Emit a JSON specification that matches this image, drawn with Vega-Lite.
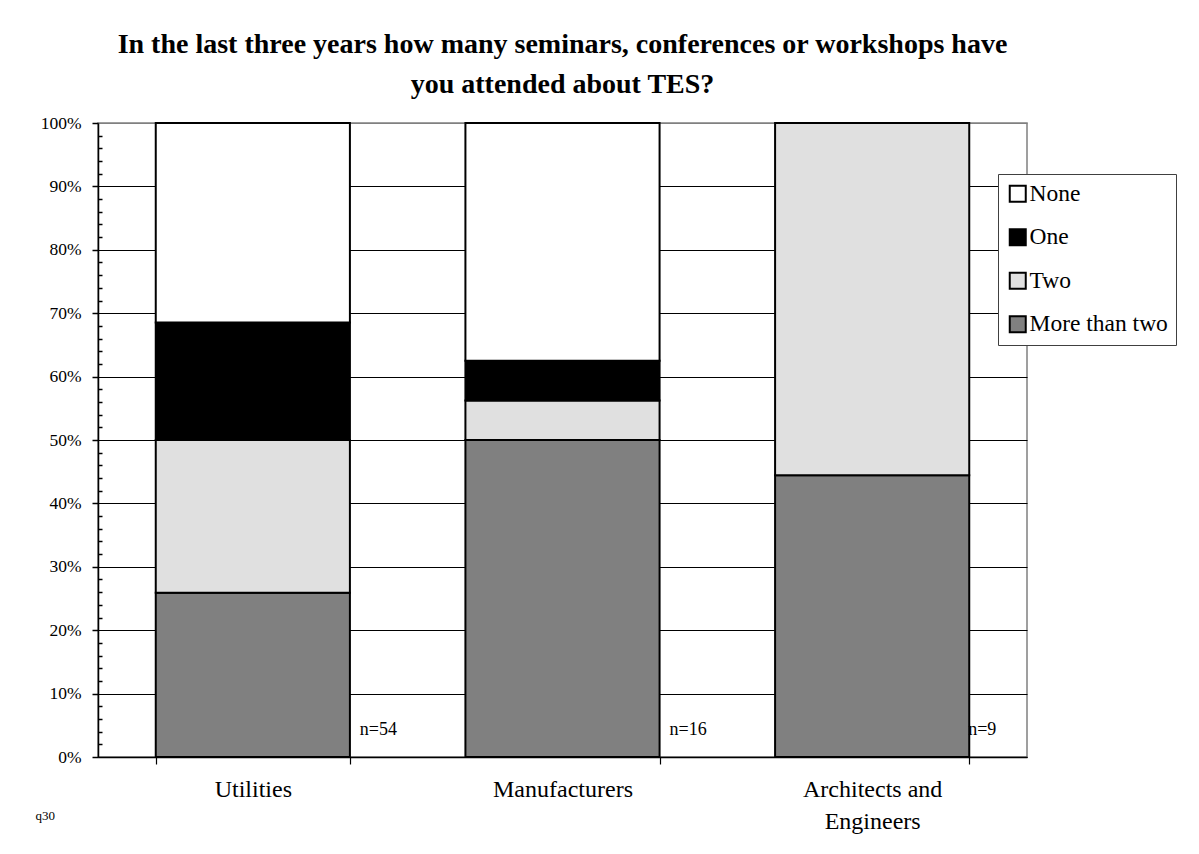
{
  "$schema": "https://vega.github.io/schema/vega-lite/v6.json",
  "autosize": "none",
  "width": 929,
  "height": 634,
  "padding": {"left": 98, "top": 123, "right": 172, "bottom": 97},
  "background": "white",
  "config": {
    "font": "Liberation Serif",
    "view": {"stroke": "#808080", "strokeWidth": 1.5}
  },
  "title": {
    "text": ["In the last three years how many seminars, conferences or workshops have", "you attended about TES?"],
    "anchor": "middle",
    "frame": "group",
    "font": "Liberation Serif",
    "fontSize": 28,
    "fontWeight": "bold",
    "color": "black",
    "lineHeight": 40,
    "offset": 15
  },
  "data": {
    "values": [
      {"group": "Utilities", "answer": "More than two", "rank": 1, "count": 14},
      {"group": "Utilities", "answer": "Two", "rank": 2, "count": 13},
      {"group": "Utilities", "answer": "One", "rank": 3, "count": 10},
      {"group": "Utilities", "answer": "None", "rank": 4, "count": 17},
      {"group": "Manufacturers", "answer": "More than two", "rank": 1, "count": 8},
      {"group": "Manufacturers", "answer": "Two", "rank": 2, "count": 1},
      {"group": "Manufacturers", "answer": "One", "rank": 3, "count": 1},
      {"group": "Manufacturers", "answer": "None", "rank": 4, "count": 6},
      {"group": "Architects and Engineers", "answer": "More than two", "rank": 1, "count": 4},
      {"group": "Architects and Engineers", "answer": "Two", "rank": 2, "count": 5},
      {"group": "Architects and Engineers", "answer": "One", "rank": 3, "count": 0},
      {"group": "Architects and Engineers", "answer": "None", "rank": 4, "count": 0}
    ]
  },
  "encoding": {
    "x": {
      "field": "group",
      "type": "nominal",
      "sort": ["Utilities", "Manufacturers", "Architects and Engineers"],
      "scale": {"paddingInner": 0.373, "paddingOuter": 0.1865},
      "axis": {
        "title": "q30",
        "titleFont": "Liberation Serif",
        "titleFontSize": 13,
        "titleFontWeight": "normal",
        "titleColor": "black",
        "titleAnchor": "start",
        "titleAlign": "left",
        "titleBaseline": "alphabetic",
        "titleX": -63,
        "titleY": 62,
        "domainColor": "black",
        "domainWidth": 1.5,
        "tickBand": "extent",
        "tickColor": "black",
        "tickWidth": 1.2,
        "tickSize": 7,
        "labelAngle": 0,
        "labelFontSize": 24,
        "labelColor": "black",
        "labelPadding": 13,
        "labelLineHeight": 32,
        "labelExpr": "datum.value == 'Architects and Engineers' ? ['Architects and', 'Engineers'] : datum.value"
      }
    }
  },
  "layer": [
    {
      "mark": {"type": "bar", "stroke": "black", "strokeWidth": 2},
      "encoding": {
        "y": {
          "field": "count",
          "type": "quantitative",
          "stack": "normalize",
          "scale": {"domain": [0, 1]},
          "axis": {
            "title": null,
            "format": ".0%",
            "tickCount": 60,
            "labelOverlap": false,
            "values": [0, 0.02, 0.04, 0.06, 0.08, 0.1, 0.12, 0.14, 0.16, 0.18, 0.2, 0.22, 0.24, 0.26, 0.28, 0.3, 0.32, 0.34, 0.36, 0.38, 0.4, 0.42, 0.44, 0.46, 0.48, 0.5, 0.52, 0.54, 0.56, 0.58, 0.6, 0.62, 0.64, 0.66, 0.68, 0.7, 0.72, 0.74, 0.76, 0.78, 0.8, 0.82, 0.84, 0.86, 0.88, 0.9, 0.92, 0.94, 0.96, 0.98, 1],
            "labelExpr": "round(datum.value * 100) % 10 === 0 ? datum.label : ''",
            "labelFontSize": 17.5,
            "labelColor": "black",
            "labelPadding": 11,
            "domainColor": "black",
            "domainWidth": 1.5,
            "tickColor": "black",
            "tickWidth": 1.5,
            "tickSize": {"condition": {"test": "round(datum.value * 100) % 10 === 0", "value": 6}, "value": -4},
            "grid": true,
            "gridColor": {"condition": {"test": "datum.value >= 1", "value": "#808080"}, "value": "black"},
            "gridOpacity": {"condition": {"test": "round(datum.value * 100) % 10 !== 0", "value": 0}, "value": 1},
            "gridWidth": 1.2
          }
        },
        "color": {
          "field": "answer",
          "type": "nominal",
          "scale": {
            "domain": ["None", "One", "Two", "More than two"],
            "range": ["#ffffff", "#000000", "#e0e0e0", "#808080"]
          },
          "legend": {
            "title": null,
            "orient": "none",
            "legendX": 900,
            "legendY": 51,
            "fillColor": "white",
            "strokeColor": "#404040",
            "padding": 8,
            "symbolType": "square",
            "symbolSize": 256,
            "symbolStrokeColor": "black",
            "symbolStrokeWidth": 2,
            "symbolOpacity": 1,
            "labelFontSize": 23.5,
            "labelColor": "black",
            "labelOffset": 0,
            "rowPadding": 18.5
          }
        },
        "order": {"field": "rank", "type": "quantitative", "sort": "ascending"}
      }
    },
    {
      "transform": [
        {"aggregate": [{"op": "sum", "field": "count", "as": "n"}], "groupby": ["group"]},
        {"calculate": "'n=' + datum.n", "as": "label"},
        {"filter": "datum.n > 9"}
      ],
      "mark": {"type": "text", "align": "left", "baseline": "alphabetic", "dx": 107, "dy": -22, "fontSize": 18, "color": "black"},
      "encoding": {
        "y": {"datum": 0},
        "text": {"field": "label"}
      }
    },
    {
      "transform": [
        {"aggregate": [{"op": "sum", "field": "count", "as": "n"}], "groupby": ["group"]},
        {"calculate": "'n=' + datum.n", "as": "label"},
        {"filter": "datum.n <= 9"}
      ],
      "mark": {"type": "text", "align": "left", "baseline": "alphabetic", "dx": 96, "dy": -22, "fontSize": 18, "color": "black"},
      "encoding": {
        "y": {"datum": 0},
        "text": {"field": "label"}
      }
    }
  ]
}
